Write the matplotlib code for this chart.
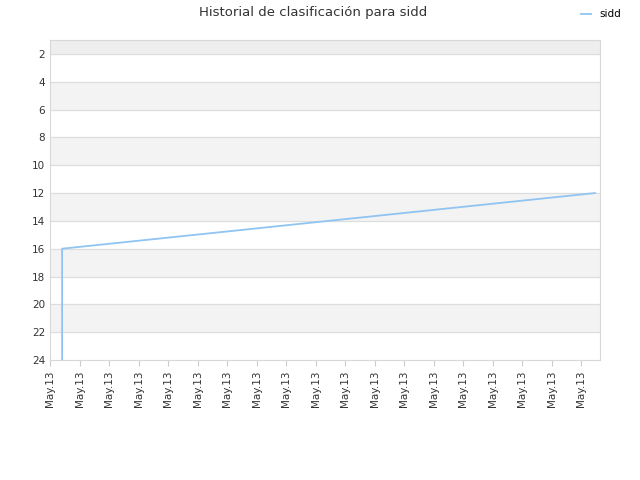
import matplotlib
matplotlib.use("Agg")
import matplotlib.pyplot as plt

tick_labels = ["May.13"] * 19
xs = [0.41, 0.41, 18.47]
ranks = [24, 16, 12]

fig = plt.figure(figsize=(6.4, 4.8), dpi=100)
ax = fig.add_axes([50/640, 1-360/480, 550/640, 320/480])
ax.set_xlim(0, 18.64)
ax.set_ylim(24, 1)

ax.axhspan(1, 2, color="#eeeeee", zorder=0)
for y0 in range(4, 24, 4):
    ax.axhspan(y0, y0 + 2, color="#f3f3f3", zorder=0)
for y in range(2, 24, 2):
    ax.axhline(y, color="#dddddd", lw=0.8, zorder=1)

ax.plot(xs, ranks, color="#90c4f2", lw=1.3, zorder=3, label="sidd")

ax.set_yticks(range(2, 25, 2))
ax.set_xticks(range(len(tick_labels)))
ax.set_xticklabels(tick_labels, rotation=90)
ax.tick_params(labelsize=7.5, colors="#333333", length=0)
ax.tick_params(axis="x", length=4, color="#cccccc")
for s in ax.spines.values():
    s.set_color("#d8d8d8")

fig.text(0.49, 0.988, "Historial de clasificación para sidd", ha="center", va="top",
         fontsize=9.5, color="#333333")
fig.legend(loc="upper right", bbox_to_anchor=(0.985, 1.0), frameon=False, fontsize=7.5,
           handlelength=1.0)

fig.savefig("out.png")
